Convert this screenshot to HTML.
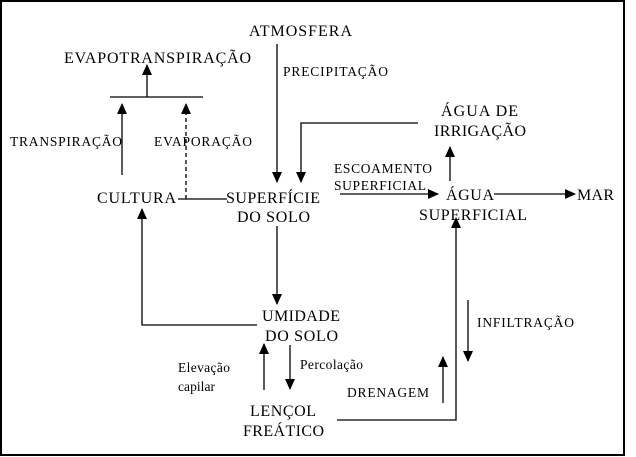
<!DOCTYPE html>
<html><head><meta charset="utf-8"><style>
html,body{margin:0;padding:0;background:#fff;}
svg{display:block;}
text{font-family:"Liberation Serif",serif;font-size:16px;fill:#000;}
.s{font-size:13.5px;}
</style></head><body>
<svg width="636" height="457" viewBox="0 0 636 457" xmlns="http://www.w3.org/2000/svg">
<defs>
<marker id="a" markerWidth="12" markerHeight="12" refX="10" refY="5.5" orient="auto" markerUnits="userSpaceOnUse">
<path d="M0,0.5 L11,5.5 L0,10.5 Z" fill="#000"/></marker>
</defs>
<rect x="1" y="1" width="623" height="454" fill="none" stroke="#000" stroke-width="2"/>
<g stroke="#000" stroke-width="1.3" fill="none">
<line x1="277" y1="44" x2="277" y2="182" marker-end="url(#a)"/>
<polyline points="418,123 301,123 301,182" marker-end="url(#a)"/>
<line x1="110" y1="97" x2="203" y2="97"/>
<line x1="147" y1="97" x2="147" y2="65" marker-end="url(#a)"/>
<line x1="122" y1="175" x2="122" y2="104" marker-end="url(#a)"/>
<line x1="186" y1="199" x2="186" y2="104" stroke-dasharray="4,3" marker-end="url(#a)"/>
<line x1="178" y1="199" x2="227" y2="199"/>
<line x1="277" y1="226" x2="277" y2="304" marker-end="url(#a)"/>
<polyline points="257,325 142,325 142,209" marker-end="url(#a)"/>
<line x1="264" y1="390" x2="264" y2="344" marker-end="url(#a)"/>
<line x1="290" y1="345" x2="290" y2="389" marker-end="url(#a)"/>
<polyline points="337,420 456,420 456,218" marker-end="url(#a)"/>
<line x1="443" y1="403" x2="443" y2="357" marker-end="url(#a)"/>
<line x1="468" y1="300" x2="468" y2="361" marker-end="url(#a)"/>
<line x1="340" y1="194" x2="438" y2="194" marker-end="url(#a)"/>
<line x1="494" y1="194" x2="575" y2="194" marker-end="url(#a)"/>
<line x1="450" y1="181" x2="450" y2="147" marker-end="url(#a)"/>
</g>
<text x="249" y="36" textLength="103">ATMOSFERA</text>
<text x="64" y="63" textLength="187">EVAPOTRANSPIRAÇÃO</text>
<text class="s" x="283" y="76" textLength="105">PRECIPITAÇÃO</text>
<text x="441" y="116" textLength="77">ÁGUA DE</text>
<text x="434" y="136" textLength="92">IRRIGAÇÃO</text>
<text class="s" x="10" y="146" textLength="112">TRANSPIRAÇÃO</text>
<text class="s" x="154" y="146" textLength="98">EVAPORAÇÃO</text>
<text class="s" x="334" y="173" textLength="98">ESCOAMENTO</text>
<text class="s" x="334" y="190" textLength="92">SUPERFICIAL</text>
<text x="97" y="203" textLength="79">CULTURA</text>
<text x="226" y="203" textLength="94">SUPERFÍCIE</text>
<text x="237" y="222" textLength="73">DO SOLO</text>
<text x="446" y="200" textLength="48">ÁGUA</text>
<text x="577" y="200" textLength="37">MAR</text>
<text x="419" y="220" textLength="108">SUPERFICIAL</text>
<text x="262" y="321" textLength="78">UMIDADE</text>
<text x="265" y="341" textLength="73">DO SOLO</text>
<text class="s" x="477" y="327" textLength="97">INFILTRAÇÃO</text>
<text class="s" x="300" y="369" textLength="63">Percolação</text>
<text class="s" x="178" y="372" textLength="52">Elevação</text>
<text class="s" x="178" y="391" textLength="37">capilar</text>
<text class="s" x="347" y="397" textLength="82">DRENAGEM</text>
<text x="250" y="416" textLength="66">LENÇOL</text>
<text x="243" y="436" textLength="81">FREÁTICO</text>
</svg>
</body></html>
